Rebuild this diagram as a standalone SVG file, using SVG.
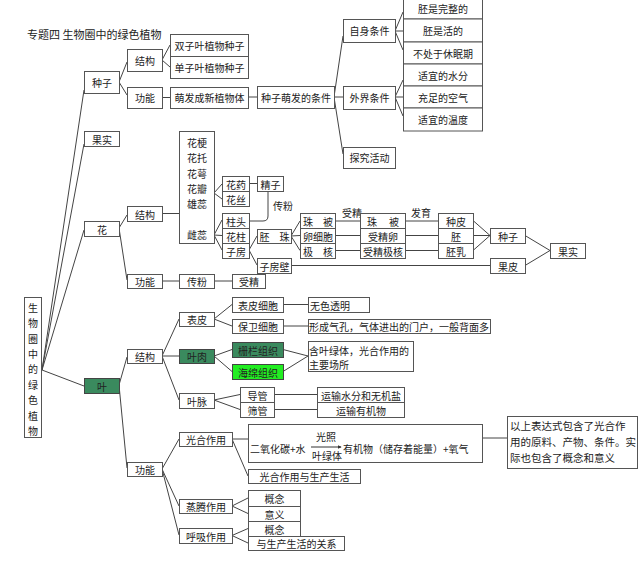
<svg xmlns="http://www.w3.org/2000/svg" width="640" height="566" viewBox="0 0 640 566">
<style>
text{font-family:"Noto Sans CJK SC","Noto Sans",sans-serif;font-size:10px;fill:#222;text-anchor:middle;dominant-baseline:central}
.s{text-anchor:start}
.b{fill:#fff;stroke:#555;stroke-width:1}
.dk{fill:#3a8a5e;stroke:#444;stroke-width:1}
.lg{fill:#22ee22;stroke:#444;stroke-width:1}
#connectors line,#connectors path,#connectors polyline{stroke:#444;stroke-width:1;fill:none}
</style>
<defs>
<marker id="ah" viewBox="0 0 6 6" refX="5" refY="3" markerWidth="4" markerHeight="4" orient="auto"><path d="M0,0 L6,3 L0,6 z" fill="#333"/></marker>
</defs>
<rect width="640" height="566" fill="#fff"/>

<g id="connectors">
<line x1="42" y1="370" x2="84" y2="90"/>
<line x1="42" y1="370" x2="84" y2="144"/>
<line x1="42" y1="370" x2="84" y2="230"/>
<line x1="42" y1="370" x2="84" y2="386"/>
<line x1="119" y1="82" x2="127" y2="62"/>
<line x1="119" y1="82" x2="127" y2="95"/>
<line x1="162" y1="60" x2="170" y2="45"/>
<line x1="162" y1="60" x2="170" y2="67"/>
<line x1="162" y1="97.5" x2="170" y2="97.5"/>
<line x1="248" y1="97" x2="257" y2="97"/>
<line x1="334" y1="97" x2="343" y2="36"/>
<line x1="334" y1="97" x2="343" y2="97"/>
<line x1="334" y1="97" x2="343" y2="154"/>
<line x1="395" y1="31" x2="403" y2="12"/>
<line x1="395" y1="31" x2="403" y2="31"/>
<line x1="395" y1="31" x2="403" y2="50"/>
<line x1="395" y1="97" x2="403" y2="80"/>
<line x1="395" y1="97" x2="403" y2="97"/>
<line x1="395" y1="97" x2="403" y2="116"/>
<line x1="119" y1="228" x2="127" y2="215"/>
<line x1="119" y1="228" x2="127" y2="280"/>
<line x1="162" y1="213.5" x2="179" y2="213.5"/>
<line x1="162" y1="281" x2="179" y2="281"/>
<line x1="214" y1="281" x2="232" y2="281"/>
<line x1="214" y1="193" x2="222" y2="184"/>
<line x1="214" y1="193" x2="222" y2="199"/>
<line x1="214" y1="235" x2="222" y2="220"/>
<line x1="214" y1="235" x2="222" y2="235.5"/>
<line x1="214" y1="235" x2="222" y2="250"/>
<line x1="249" y1="183.5" x2="257" y2="183.5"/>
<path d="M268,191 V216 Q268,221 263,221 H249"/>
<line x1="249" y1="250" x2="257" y2="236"/>
<line x1="249" y1="250" x2="257" y2="265"/>
<line x1="291" y1="236" x2="300" y2="221"/>
<line x1="291" y1="236" x2="300" y2="235.5"/>
<line x1="291" y1="236" x2="300" y2="250.5"/>
<line x1="335" y1="221" x2="360" y2="221"/>
<line x1="335" y1="235.5" x2="360" y2="235.5"/>
<line x1="335" y1="250.5" x2="360" y2="250.5"/>
<line x1="405" y1="221" x2="438" y2="221"/>
<line x1="405" y1="235.5" x2="438" y2="235.5"/>
<line x1="405" y1="250.5" x2="438" y2="250.5"/>
<line x1="473" y1="220.5" x2="490" y2="235.5"/>
<line x1="473" y1="235.5" x2="490" y2="235.5"/>
<line x1="473" y1="250.5" x2="490" y2="235.5"/>
<line x1="291" y1="265.5" x2="490" y2="265.5"/>
<line x1="525" y1="235.5" x2="550" y2="250.5"/>
<line x1="525" y1="265.5" x2="550" y2="250.5"/>
<line x1="119" y1="385" x2="127" y2="357"/>
<line x1="119" y1="385" x2="127" y2="468"/>
<line x1="162" y1="356" x2="179" y2="319"/>
<line x1="162" y1="356" x2="179" y2="356"/>
<line x1="162" y1="356" x2="179" y2="400"/>
<line x1="214" y1="319" x2="232" y2="304.5"/>
<line x1="214" y1="319" x2="232" y2="326"/>
<line x1="283" y1="304.5" x2="308" y2="304.5"/>
<line x1="283" y1="326" x2="308" y2="326"/>
<line x1="214" y1="356" x2="232" y2="349.5"/>
<line x1="214" y1="356" x2="232" y2="371.5"/>
<line x1="283" y1="349.5" x2="308" y2="356"/>
<line x1="283" y1="371.5" x2="308" y2="356"/>
<line x1="214" y1="400" x2="240" y2="394.5"/>
<line x1="214" y1="400" x2="240" y2="409.5"/>
<line x1="274" y1="394.5" x2="317" y2="394.5"/>
<line x1="274" y1="409.5" x2="317" y2="409.5"/>
<line x1="162" y1="469" x2="179" y2="439"/>
<line x1="162" y1="469" x2="179" y2="506"/>
<line x1="162" y1="469" x2="179" y2="535"/>
<line x1="232" y1="439" x2="248" y2="439"/>
<line x1="232" y1="439" x2="248" y2="476"/>
<line x1="482" y1="438" x2="507" y2="438"/>
<line x1="232" y1="506" x2="248" y2="498"/>
<line x1="232" y1="506" x2="248" y2="513.5"/>
<line x1="232" y1="535.5" x2="248" y2="528.5"/>
<line x1="232" y1="535.5" x2="248" y2="543"/>
</g>

<g id="title"><text class="s" x="27" y="34" style="font-size:11px">专题四 生物圈中的绿色植物</text></g>

<g id="root"><rect class="b" x="24.5" y="297.5" width="17" height="140"/>
<text x="33" y="307">生</text><text x="33" y="322">物</text><text x="33" y="338">圈</text><text x="33" y="353">中</text><text x="33" y="368">的</text><text x="33" y="384">绿</text><text x="33" y="399">色</text><text x="33" y="415">植</text><text x="33" y="430">物</text></g>

<g id="seed"><rect class="b" x="84.5" y="71.5" width="35" height="22"/><text x="102" y="82">种子</text></g>
<g id="seed-struct"><rect class="b" x="127.5" y="49.5" width="35" height="22"/><text x="145" y="60">结构</text></g>
<g id="seed-func"><rect class="b" x="127.5" y="87.5" width="35" height="21"/><text x="145" y="97.5">功能</text></g>
<g id="dicot"><rect class="b" x="170.5" y="34.5" width="78" height="22"/><text x="209.5" y="45">双子叶植物种子</text></g>
<g id="monocot"><rect class="b" x="170.5" y="56.5" width="78" height="22"/><text x="209.5" y="67">单子叶植物种子</text></g>
<g id="grow"><rect class="b" x="170.5" y="87.5" width="78" height="21"/><text x="209.5" y="97.5">萌发成新植物体</text></g>
<g id="cond"><rect class="b" x="257.5" y="86.5" width="77" height="22"/><text x="296" y="97">种子萌发的条件</text></g>
<g id="self"><rect class="b" x="343.5" y="19.5" width="52" height="23"/><text x="369.5" y="30.5">自身条件</text></g>
<g id="ext"><rect class="b" x="343.5" y="86.5" width="52" height="23"/><text x="369.5" y="97.5">外界条件</text></g>
<g id="explore"><rect class="b" x="343.5" y="147.5" width="52" height="21"/><text x="369.5" y="157.5">探究活动</text></g>
<g id="c1"><rect class="b" x="403.5" y="-3.5" width="79" height="22.5"/><text x="443" y="8">胚是完整的</text></g>
<g id="c2"><rect class="b" x="403.5" y="19" width="79" height="23"/><text x="443" y="30.5">胚是活的</text></g>
<g id="c3"><rect class="b" x="403.5" y="42" width="79" height="22"/><text x="443" y="53">不处于休眠期</text></g>
<g id="c4"><rect class="b" x="403.5" y="64" width="79" height="22"/><text x="443" y="75">适宜的水分</text></g>
<g id="c5"><rect class="b" x="403.5" y="86" width="79" height="22"/><text x="443" y="97">充足的空气</text></g>
<g id="c6"><rect class="b" x="403.5" y="108" width="79" height="23"/><text x="443" y="119.5">适宜的温度</text></g>

<g id="fruit"><rect class="b" x="84.5" y="131.5" width="35" height="15"/><text x="102" y="139">果实</text></g>
<g id="flower"><rect class="b" x="84.5" y="221.5" width="35" height="15"/><text x="102" y="229">花</text></g>
<g id="flower-struct"><rect class="b" x="127.5" y="206.5" width="35" height="15"/><text x="145" y="214">结构</text></g>
<g id="flower-func"><rect class="b" x="127.5" y="274.5" width="35" height="14"/><text x="145" y="281.5">功能</text></g>
<g id="pollination"><rect class="b" x="179.5" y="274.5" width="35" height="14"/><text x="197" y="281.5">传粉</text></g>
<g id="fertilization"><rect class="b" x="232.5" y="274.5" width="33" height="14"/><text x="249" y="281.5">受精</text></g>
<g id="flower-parts"><rect class="b" x="179.5" y="131.5" width="35" height="112"/>
<text x="197" y="142">花梗</text><text x="197" y="157">花托</text><text x="197" y="173">花萼</text><text x="197" y="188">花瓣</text><text x="197" y="203">雄蕊</text><text x="197" y="234">雌蕊</text></g>
<g id="anther"><rect class="b" x="222.5" y="176.5" width="27" height="15"/><text x="236" y="184">花药</text></g>
<g id="filament"><rect class="b" x="222.5" y="191.5" width="27" height="15"/><text x="236" y="199">花丝</text></g>
<g id="sperm"><rect class="b" x="257.5" y="176.5" width="26" height="15"/><text x="270.5" y="184">精子</text></g>
<g id="lbl-pollen"><text x="283" y="205">传粉</text></g>
<g id="stigma"><rect class="b" x="222.5" y="213.5" width="27" height="15"/><text x="236" y="221">柱头</text></g>
<g id="style"><rect class="b" x="222.5" y="228.5" width="27" height="15"/><text x="236" y="236">花柱</text></g>
<g id="ovary"><rect class="b" x="222.5" y="243.5" width="27" height="15"/><text x="236" y="251">子房</text></g>
<g id="ovule"><rect class="b" x="257.5" y="229.5" width="34" height="14"/><text x="274.5" y="236.5">胚　珠</text></g>
<g id="ovary-wall"><rect class="b" x="257.5" y="258.5" width="34" height="15"/><text x="274.5" y="266">子房壁</text></g>
<g id="integument"><rect class="b" x="300.5" y="213.5" width="35" height="15"/><text x="318" y="221">珠　被</text></g>
<g id="egg"><rect class="b" x="300.5" y="228.5" width="35" height="15"/><text x="318" y="236">卵细胞</text></g>
<g id="polar"><rect class="b" x="300.5" y="243.5" width="35" height="15"/><text x="318" y="251">极　核</text></g>
<g id="lbl-fert"><text x="352" y="212">受精</text></g>
<g id="integument2"><rect class="b" x="360.5" y="213.5" width="45" height="15"/><text x="383" y="221" style="white-space:pre">珠　 被</text></g>
<g id="zygote"><rect class="b" x="360.5" y="228.5" width="45" height="15"/><text x="383" y="236">受精卵</text></g>
<g id="fpolar"><rect class="b" x="360.5" y="243.5" width="45" height="15"/><text x="383" y="251">受精极核</text></g>
<g id="lbl-dev"><text x="421" y="212">发育</text></g>
<g id="seedcoat"><rect class="b" x="438.5" y="213.5" width="35" height="15"/><text x="456" y="221">种皮</text></g>
<g id="embryo"><rect class="b" x="438.5" y="228.5" width="35" height="15"/><text x="456" y="236">胚</text></g>
<g id="endosperm"><rect class="b" x="438.5" y="243.5" width="35" height="15"/><text x="456" y="251">胚乳</text></g>
<g id="seed-r"><rect class="b" x="490.5" y="228.5" width="35" height="15"/><text x="508" y="236">种子</text></g>
<g id="pericarp"><rect class="b" x="490.5" y="258.5" width="35" height="15"/><text x="508" y="266">果皮</text></g>
<g id="fruit-r"><rect class="b" x="550.5" y="243.5" width="35" height="15"/><text x="568" y="251">果实</text></g>

<g id="leaf"><rect class="dk" x="84.5" y="378.5" width="35" height="15"/><text x="102" y="386">叶</text></g>
<g id="leaf-struct"><rect class="b" x="127.5" y="349.5" width="35" height="14"/><text x="145" y="356.5">结构</text></g>
<g id="leaf-func"><rect class="b" x="127.5" y="462.5" width="35" height="14"/><text x="145" y="469.5">功能</text></g>
<g id="epidermis"><rect class="b" x="179.5" y="312.5" width="35" height="14"/><text x="197" y="319.5">表皮</text></g>
<g id="mesophyll"><rect class="dk" x="179.5" y="349.5" width="35" height="14"/><text x="197" y="356.5">叶肉</text></g>
<g id="vein"><rect class="b" x="179.5" y="393.5" width="35" height="15"/><text x="197" y="401">叶脉</text></g>
<g id="epi-cell"><rect class="b" x="232.5" y="297.5" width="51" height="15"/><text x="258" y="305">表皮细胞</text></g>
<g id="guard-cell"><rect class="b" x="232.5" y="319.5" width="51" height="14"/><text x="258" y="326.5">保卫细胞</text></g>
<g id="colorless"><rect class="b" x="308.5" y="297.5" width="61" height="15"/><text class="s" x="310" y="305">无色透明</text></g>
<g id="stomata"><rect class="b" x="308.5" y="319.5" width="182" height="14"/><text class="s" x="309" y="326.5">形成气孔，气体进出的门户，一般背面多</text></g>
<g id="palisade"><rect class="dk" x="232.5" y="342.5" width="51" height="15"/><text x="258" y="350">栅栏组织</text></g>
<g id="spongy"><rect class="lg" x="232.5" y="364.5" width="51" height="15"/><text x="258" y="372">海绵组织</text></g>
<g id="chloro"><rect class="b" x="308.5" y="341.5" width="105" height="30"/><text class="s" x="309" y="350">含叶绿体，光合作用的</text><text class="s" x="309" y="364">主要场所</text></g>
<g id="vessel"><rect class="b" x="240.5" y="387.5" width="34" height="15"/><text x="257.5" y="395">导管</text></g>
<g id="sieve"><rect class="b" x="240.5" y="402.5" width="34" height="15"/><text x="257.5" y="410">筛管</text></g>
<g id="water"><rect class="b" x="317.5" y="387.5" width="87" height="15"/><text x="361" y="395">运输水分和无机盐</text></g>
<g id="organic"><rect class="b" x="317.5" y="402.5" width="87" height="15"/><text x="361" y="410">运输有机物</text></g>
<g id="photo"><rect class="b" x="179.5" y="432.5" width="53" height="14"/><text x="206" y="439.5">光合作用</text></g>
<g id="transp"><rect class="b" x="179.5" y="499.5" width="53" height="14"/><text x="206" y="506.5">蒸腾作用</text></g>
<g id="resp"><rect class="b" x="179.5" y="528.5" width="53" height="15"/><text x="206" y="536">呼吸作用</text></g>
<g id="equation"><rect class="b" x="248.5" y="424.5" width="234" height="38"/>
<text class="s" x="250" y="448">二氧化碳+水</text>
<line x1="311" y1="447" x2="341" y2="447" stroke="#333" stroke-width="1" marker-end="url(#ah)"/>
<text x="326" y="436">光照</text><text x="327" y="455">叶绿体</text>
<text class="s" x="343" y="448">有机物（储存着能量）+氧气</text></g>
<g id="note"><rect class="b" x="507.5" y="416.5" width="130" height="52"/>
<text class="s" x="510" y="425" style="font-size:10.5px">以上表达式包含了光合作</text>
<text class="s" x="510" y="441" style="font-size:10.5px">用的原料、产物、条件。实</text>
<text class="s" x="510" y="457" style="font-size:10.5px">际也包含了概念和意义</text></g>
<g id="photo-life"><rect class="b" x="248.5" y="469.5" width="112" height="14"/><text x="304.5" y="476.5">光合作用与生产生活</text></g>
<g id="t-concept"><rect class="b" x="248.5" y="490.5" width="52" height="16"/><text x="274.5" y="498.5">概念</text></g>
<g id="t-meaning"><rect class="b" x="248.5" y="506.5" width="52" height="15"/><text x="274.5" y="514">意义</text></g>
<g id="r-concept"><rect class="b" x="248.5" y="521.5" width="52" height="15"/><text x="274.5" y="529">概念</text></g>
<g id="r-life"><rect class="b" x="248.5" y="536.5" width="96" height="14"/><text x="296.5" y="543.5">与生产生活的关系</text></g>
</svg>
